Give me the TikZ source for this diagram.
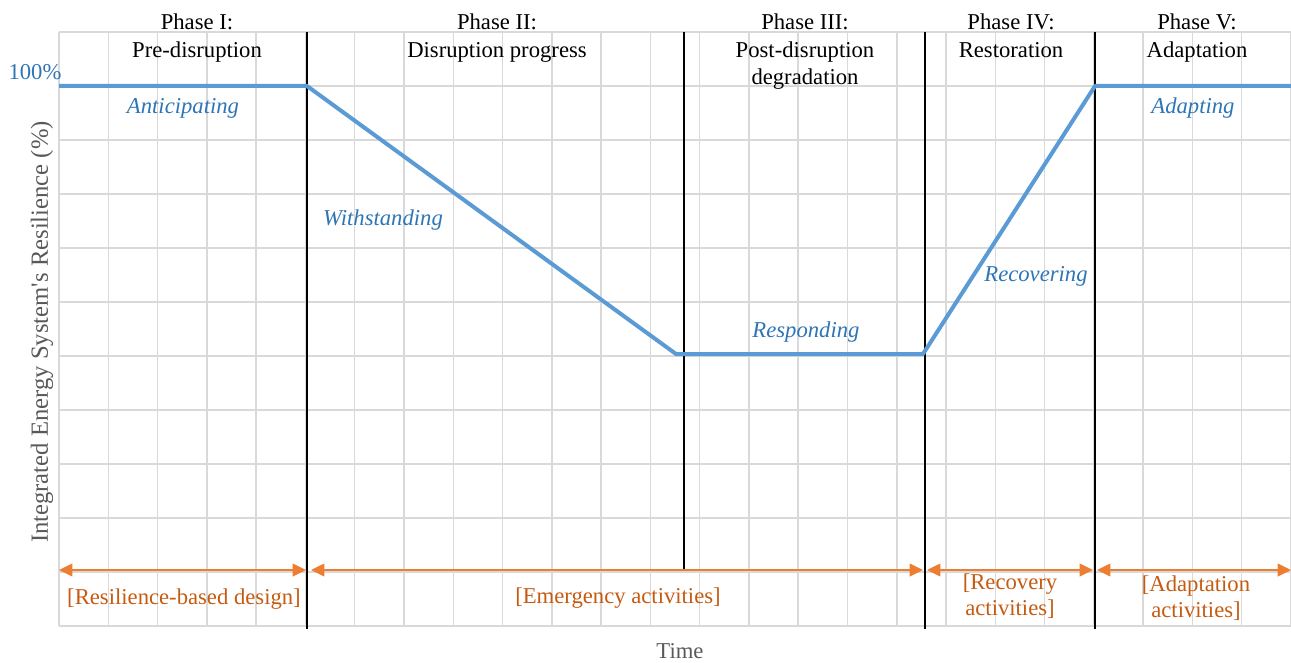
\documentclass[tikz,border=0pt]{standalone}
\usepackage{fontspec}
\setmainfont{Liberation Serif}
\usepackage{tikz}
\usetikzlibrary{positioning, arrows.meta, calc}

\definecolor{curveblue}{HTML}{5B9BD5}
\definecolor{labelblue}{HTML}{2E75B6}
\definecolor{spanorange}{HTML}{ED7D31}
\definecolor{textorange}{HTML}{C55A11}
\definecolor{axisgray}{HTML}{595959}

\begin{document}
\begin{tikzpicture}[x=0.75pt, y=0.75pt]
		% Define styles
		\tikzset{
			gridline/.style={draw=black!15, line width=1.1pt},
			phaseline/.style={draw=black, line width=0.8pt},
			curve/.style={draw=curveblue, line width=3pt, line join=round},
			span/.style={draw=spanorange, line width=1.1pt, {Triangle[length=10pt,width=9.5pt]}-{Triangle[length=10pt,width=9.5pt]}},
			phase/.style={anchor=north, align=center, inner sep=0pt, font=\fontsize{17}{20.5}\selectfont},
			stage/.style={text=labelblue, inner sep=0pt, font=\fontsize{17}{20.5}\selectfont\itshape},
			activity/.style={text=textorange, align=center, inner sep=0pt, font=\fontsize{17}{19.5}\selectfont},
			axislabel/.style={text=axisgray, inner sep=0pt, font=\fontsize{17}{20.5}\selectfont}
		}
		\useasboundingbox (0,0) rectangle (1291,662);
		
		% Grid
		\foreach \i in {0,...,25}
			\draw[gridline] ({59+49.28*\i},36) -- ({59+49.28*\i},630);
		\foreach \j in {0,...,11}
			\draw[gridline] (59,{36+54*\j}) -- (1291,{36+54*\j});
		
		% Coordinates
		\coordinate (t1) at (307,630);
		\coordinate (b1) at (307,33);
		\coordinate (t2) at (684,630);
		\coordinate (b2) at (684,92);
		\coordinate (t3) at (925,630);
		\coordinate (b3) at (925,33);
		\coordinate (t4) at (1095,630);
		\coordinate (b4) at (1095,33);
		
		\coordinate (r0) at (59,576);
		\coordinate (r1) at (307,576);
		\coordinate (r2) at (676,308);
		\coordinate (r3) at (923,308);
		\coordinate (r4) at (1095,576);
		\coordinate (r5) at (1291,576);
		
		\coordinate (s0) at (59,92);
		\coordinate (s1) at (306,92);
		\coordinate (s2) at (311,92);
		\coordinate (s3) at (923,92);
		\coordinate (s4) at (927,92);
		\coordinate (s5) at (1093,92);
		\coordinate (s6) at (1097,92);
		\coordinate (s7) at (1291,92);
		
		% Phase lines
		\draw[phaseline] (t1) -- (b1);
		\draw[phaseline] (t2) -- (b2);
		\draw[phaseline] (t3) -- (b3);
		\draw[phaseline] (t4) -- (b4);
		
		% Resilience curve
		\draw[curve] (r0) -- (r1) -- (r2) -- (r3) -- (r4) -- (r5);
		
		% Spans
		\draw[span] (s0) -- (s1);
		\draw[span] (s2) -- (s3);
		\draw[span] (s4) -- (s5);
		\draw[span] (s6) -- (s7);
		
		% Nodes
		\node[phase] (ph1) at (197,648) {Phase I:\\Pre-disruption};
		\node[phase] (ph2) at (497,648) {Phase II:\\Disruption progress};
		\node[phase] (ph3) at (805,648) {Phase III:\\Post-disruption\\degradation};
		\node[phase] (ph4) at (1011,648) {Phase IV:\\Restoration};
		\node[phase] (ph5) at (1197,648) {Phase V:\\Adaptation};
		
		\node[stage, font=\fontsize{17}{20.5}\selectfont] (full) at (35,590) {100\%};
		\node[stage] (anticip) at (183,554) {Anticipating};
		\node[stage] (withst) at (383,442) {Withstanding};
		\node[stage] (respond) at (806,330) {Responding};
		\node[stage] (recover) at (1036,386) {Recovering};
		\node[stage] (adapt) at (1193,554) {Adapting};
		
		\node[activity] (design) at (184,63) {[Resilience-based design]};
		\node[activity] (emerg) at (618,64) {[Emergency activities]};
		\node[activity] (recov) at (1010,66) {[Recovery\\activities]};
		\node[activity] (adapta) at (1196,64) {[Adaptation\\activities]};
		
		\node[axislabel, rotate=90, font=\fontsize{18.5}{22}\selectfont] (ylab) at (42,330) {Integrated Energy System\textquotesingle s Resilience (\%)};
		\node[axislabel] (xlab) at (680,11) {Time};
	\end{tikzpicture}
\end{document}
